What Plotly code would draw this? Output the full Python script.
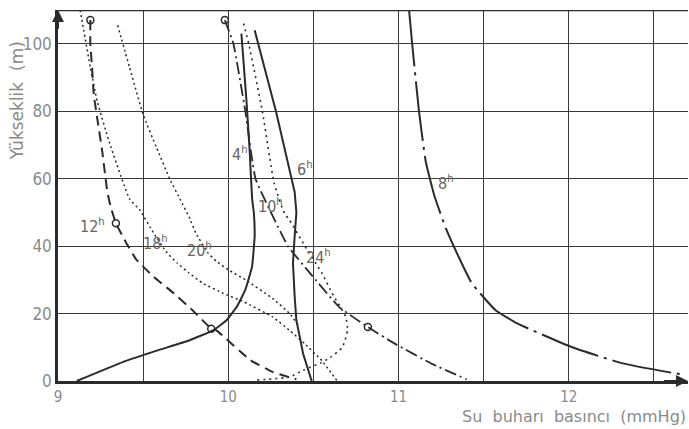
import plotly.graph_objects as go

# Water-vapour pressure (mmHg) against height (m) at different hours of the day
p_04 = [9.11, 9.38, 9.58, 9.77, 9.91, 9.99, 10.05, 10.10, 10.14, 10.155, 10.15, 10.14, 10.126, 10.107, 10.077]
z_04 = [0, 5.6, 9, 12, 15, 18, 22, 27, 34, 43, 50, 54, 68, 83, 103]

p_06 = [10.155, 10.28, 10.39, 10.40, 10.39, 10.38, 10.39, 10.40, 10.44, 10.49]
z_06 = [104, 80, 56, 50, 43, 35, 25, 18, 8, 0]

p_08 = [11.06, 11.08, 11.12, 11.16, 11.21, 11.28, 11.37, 11.43, 11.57, 11.70, 12.02, 12.31, 12.61, 12.66]
z_08 = [111, 100, 80, 65, 55, 45, 35, 29, 21, 17, 10, 5.3, 2.4, 2.0]

p_10 = [10.09, 10.12, 10.20, 10.27, 10.33, 10.36, 10.45, 10.55, 10.61, 10.69, 10.70, 10.67, 10.60, 10.54, 10.44, 10.36, 10.17]
z_10 = [106, 100, 80, 58.6, 49.7, 47.7, 40, 32, 26, 19, 15, 10, 7, 5.3, 3.2, 1.2, 0.3]

p_12 = [9.19, 9.19, 9.20, 9.21, 9.23, 9.26, 9.29, 9.31, 9.34, 9.40, 9.46, 9.56, 9.68, 9.79, 9.89, 9.93, 10.13, 10.26, 10.40]
z_12 = [107, 100, 93, 85, 78, 68, 56, 51.6, 46.8, 41, 36, 31, 26, 21, 16, 15, 6.2, 2.7, 0.5]

p_18 = [9.13, 9.19, 9.23, 9.30, 9.42, 9.48, 9.56, 9.64, 9.70, 9.77, 9.85, 9.97, 10.09, 10.26, 10.36, 10.45, 10.55, 10.64]
z_18 = [110, 93, 83, 71, 54, 50.7, 44, 38, 35, 32, 29, 26, 23.5, 19, 15, 11, 6, 0]

p_20 = [9.35, 9.42, 9.50, 9.58, 9.66, 9.72, 9.77, 9.81, 9.88, 9.93, 10.00, 10.10, 10.26, 10.36, 10.42]
z_20 = [105.5, 93, 79, 69, 59.5, 53.6, 48.6, 43.8, 38, 35.5, 33, 30, 24.5, 20, 16]

p_24 = [9.98, 10.03, 10.10, 10.16, 10.27, 10.35, 10.48, 10.65, 10.82, 10.98, 11.20, 11.40]
z_24 = [107, 100, 80, 60, 48, 40, 32, 22, 16, 11, 5, 0.5]

# open circles marked on the profiles
mark_p = [9.19, 9.34, 9.90, 9.98, 10.82]
mark_z = [107, 46.8, 15.5, 107, 16]

# hour labels: text, pressure, height
hour_text = ["4", "6", "8", "10", "12", "18", "20", "24"]
hour_p = [10.07, 10.45, 11.28, 10.25, 9.20, 9.57, 9.83, 10.53]
hour_z = [67.5, 63, 59, 52, 46, 41, 39, 36.8]

x_ticks = [9, 10, 11, 12]
y_ticks = [0, 20, 40, 60, 80, 100]

ink = "#2b2b2b"
grey = "#8a8a8a"
label_font = "Liberation Sans Narrow, DejaVu Sans Condensed, DejaVu Sans"

# (pressure, height, dash pattern, width, smoothing)
series = [
    (p_04, z_04, "solid", 2.0, 0.3),
    (p_06, z_06, "solid", 2.0, 0.0),
    (p_08, z_08, "60px,6px,3px,6px", 2.0, 0.4),
    (p_10, z_10, "2px,4px", 1.6, 0.5),
    (p_12, z_12, "10px,6px", 2.0, 0.4),
    (p_18, z_18, "2px,3px", 1.5, 0.4),
    (p_20, z_20, "2px,3px", 1.5, 0.4),
    (p_24, z_24, "12px,4px,2px,4px", 1.8, 0.4),
]

fig = go.Figure()
for px, pz, dash, w, sm in series:
    line = dict(color=ink, width=w, dash=dash)
    if sm > 0:
        line.update(shape="spline", smoothing=sm)
    fig.add_trace(go.Scatter(x=px, y=pz, mode="lines", line=line,
                             hoverinfo="skip", showlegend=False))

fig.add_trace(go.Scatter(
    x=mark_p, y=mark_z, mode="markers",
    marker=dict(symbol="circle-open", size=7, color=ink, line=dict(width=1.5)),
    hoverinfo="skip", showlegend=False,
))

for t, px, pz in zip(hour_text, hour_p, hour_z):
    fig.add_annotation(
        x=px, y=pz, text=f"{t}<sup>h</sup>", showarrow=False,
        font=dict(family=label_font, size=16, color="#666666"),
    )

# axis arrows and the top frame line
fig.add_annotation(x=12.7, y=0, ax=12.55, ay=0, xref="x", yref="y", axref="x", ayref="y",
                   showarrow=True, arrowhead=2, arrowsize=1.2, arrowwidth=2, arrowcolor=ink, text="")
fig.add_annotation(x=9, y=110, ax=9, ay=104, xref="x", yref="y", axref="x", ayref="y",
                   showarrow=True, arrowhead=2, arrowsize=1.2, arrowwidth=2, arrowcolor=ink, text="")
fig.add_shape(type="line", xref="paper", yref="y", x0=0, x1=1, y0=110, y1=110,
              line=dict(color=ink, width=2.5))

# axis titles
fig.add_annotation(xref="paper", yref="paper", x=-0.066, y=0.755, xanchor="center", yanchor="middle",
                   text="Yükseklik  (m)", textangle=-90, showarrow=False,
                   font=dict(family="DejaVu Sans", size=17, color=grey))
fig.add_annotation(xref="paper", yref="paper", x=1.0, y=-0.097, xanchor="right", yanchor="middle",
                   text="Su  buharı  basıncı  (mmHg)", showarrow=False,
                   font=dict(family="DejaVu Sans", size=16, color=grey))

fig.update_layout(
    width=689, height=429,
    margin=dict(l=58, r=1, t=10, b=48),
    paper_bgcolor="white", plot_bgcolor="white",
    font=dict(family=label_font, color=grey, size=17),
    xaxis=dict(
        range=[9, 12.7], tickvals=x_ticks, ticktext=[str(v) for v in x_ticks],
        tickfont=dict(size=15),
        showgrid=False, zeroline=False,
        showline=True, linecolor=ink, linewidth=2.5,
        ticks="", ticklabelstandoff=0,
        minor=dict(dtick=0.5, tick0=9, showgrid=True, gridcolor="#3a3a3a", gridwidth=1.4),
    ),
    yaxis=dict(
        range=[0, 110], tickvals=y_ticks, ticktext=[str(v) for v in y_ticks],
        showgrid=True, gridcolor="#3a3a3a", gridwidth=1.4, zeroline=False,
        showline=True, linecolor=ink, linewidth=2.5, ticks="",
    ),
)

fig.write_html("out.html")
